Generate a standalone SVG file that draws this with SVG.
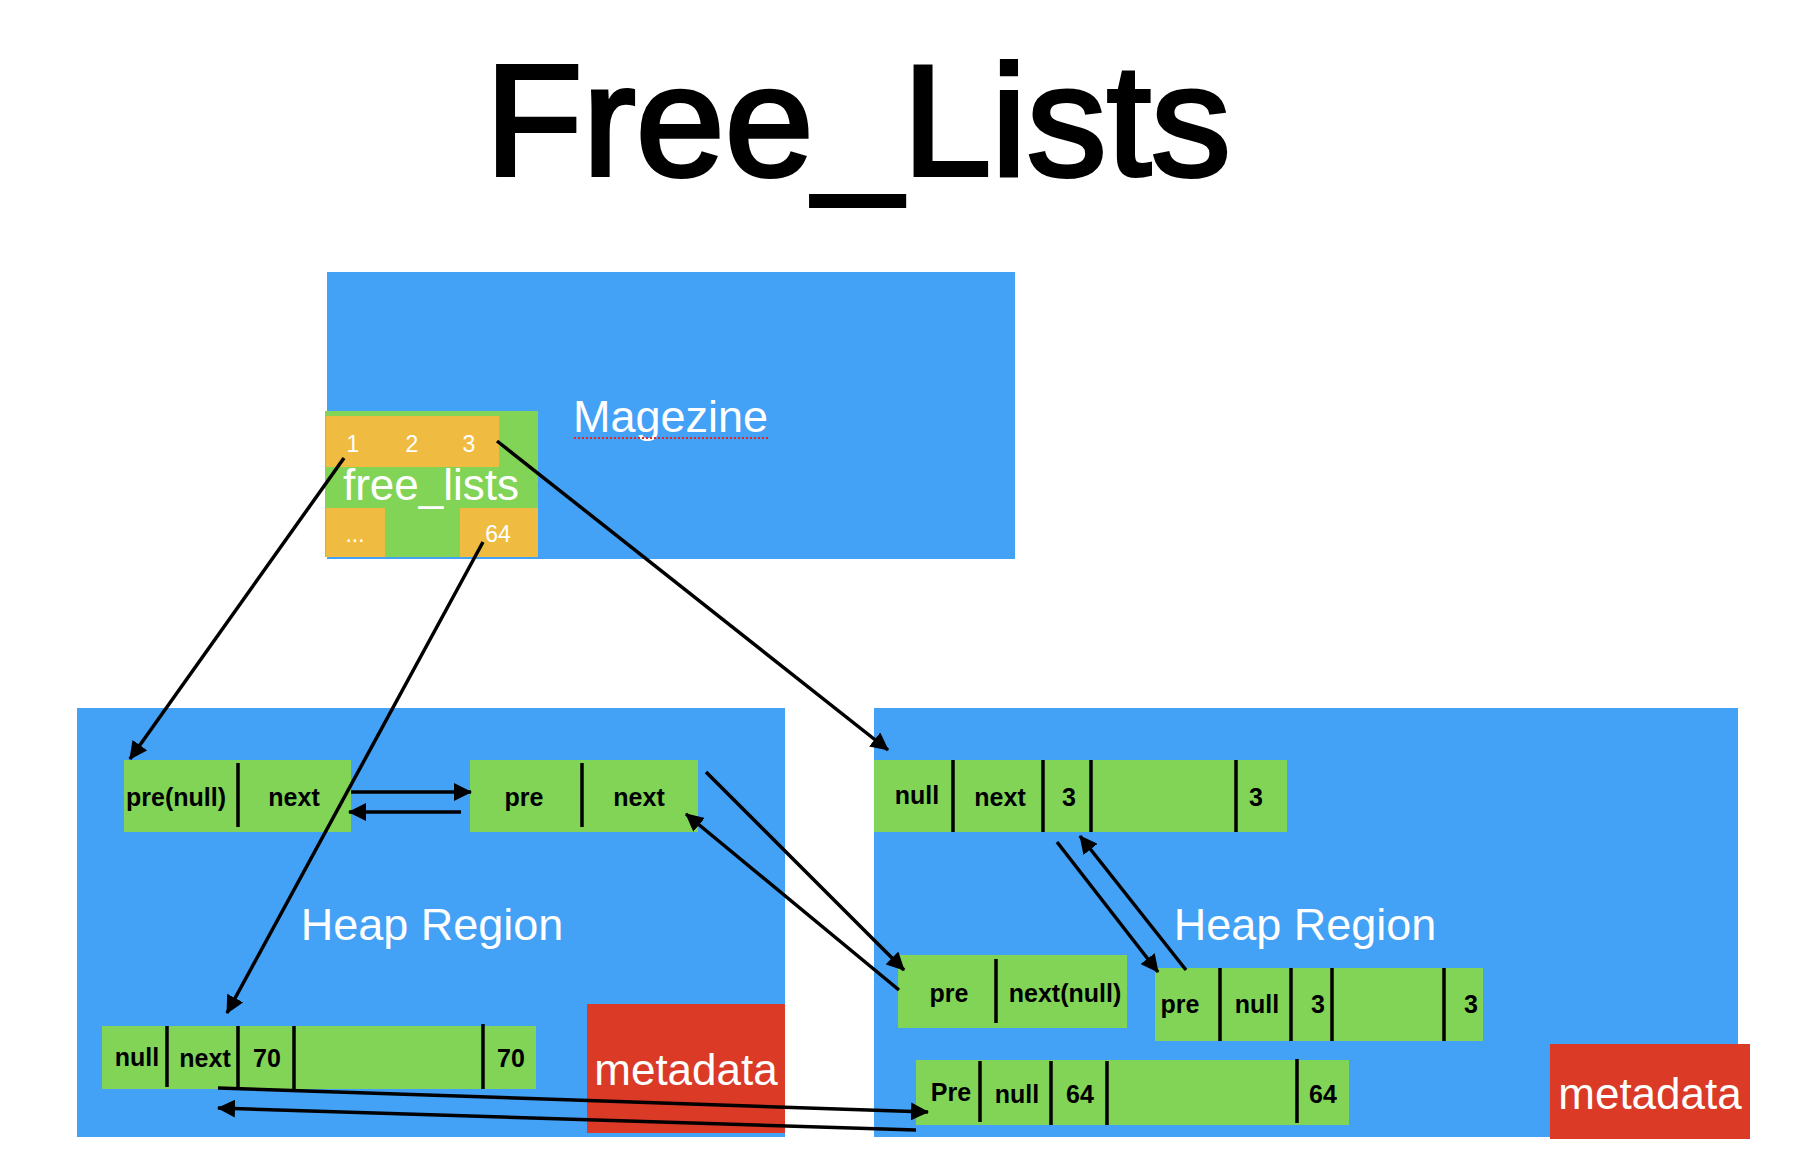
<svg xmlns="http://www.w3.org/2000/svg" width="1794" height="1162" viewBox="0 0 1794 1162">
<defs>
<style>
.blue{fill:#43a1f6}
.green{fill:#81d456}
.orange{fill:#f0bb41}
.red{fill:#da3a26}
.div{stroke:#000;stroke-width:3.5}
.lbl{font-family:"Liberation Sans",Arial,sans-serif;font-weight:bold;font-size:25px;fill:#000;text-anchor:middle}
.wt{font-family:"Liberation Sans",Arial,sans-serif;fill:#fff}
.conn{stroke:#000;stroke-width:3.5;fill:none;marker-end:url(#ah)}
</style>
<marker id="ah" viewBox="0 0 18 18" refX="17" refY="9" markerWidth="18" markerHeight="18" markerUnits="userSpaceOnUse" orient="auto">
<path d="M0,0 L18,9 L0,18 z" fill="#000"/>
</marker>
</defs>
<rect width="1794" height="1162" fill="#fff"/>
<text x="858" y="175" font-family="Liberation Sans,Arial,sans-serif" font-size="157" text-anchor="middle" fill="#000" stroke="#000" stroke-width="4" textLength="746" lengthAdjust="spacingAndGlyphs">Free_Lists</text>

<g id="magazine">
<rect class="blue" x="327" y="272" width="688" height="287"/>
<text class="wt" x="573" y="432" font-size="45">Magezine</text>
<line x1="574" y1="438" x2="769" y2="438" stroke="#e02a2a" stroke-width="2" stroke-dasharray="2,2"/>
</g>
<g id="free_lists">
<rect class="green" x="325" y="411" width="213" height="146"/>
<rect class="orange" x="326" y="416" width="173" height="51"/>
<rect class="orange" x="326" y="508" width="59" height="49"/>
<rect class="orange" x="460" y="508" width="78" height="49"/>
<text class="wt" x="353" y="452" font-size="23" text-anchor="middle">1</text>
<text class="wt" x="412" y="452" font-size="23" text-anchor="middle">2</text>
<text class="wt" x="469" y="452" font-size="23" text-anchor="middle">3</text>
<text class="wt" x="431" y="500" font-size="44" text-anchor="middle">free_lists</text>
<text class="wt" x="355" y="542" font-size="23" text-anchor="middle">...</text>
<text class="wt" x="498" y="542" font-size="23" text-anchor="middle">64</text>
</g>

<g id="heap_left">
<rect class="blue" x="77" y="708" width="708" height="429"/>
<text class="wt" x="432" y="940" font-size="45" text-anchor="middle">Heap Region</text>
</g>
<g id="meta_left">
<rect class="red" x="587" y="1004" width="198" height="129"/>
<text class="wt" x="686" y="1085" font-size="44" text-anchor="middle">metadata</text>
</g>
<g id="heap_right">
<rect class="blue" x="874" y="708" width="864" height="429"/>
<text class="wt" x="1305" y="940" font-size="45" text-anchor="middle">Heap Region</text>
</g>
<g id="meta_right">
<rect class="red" x="1550" y="1044" width="200" height="95"/>
<text class="wt" x="1650" y="1109" font-size="44" text-anchor="middle">metadata</text>
</g>

<g id="node_a">
<rect class="green" x="124" y="760" width="227" height="72"/>
<line class="div" x1="238" y1="763" x2="238" y2="827"/>
<text class="lbl" x="176" y="806">pre(null)</text>
<text class="lbl" x="294" y="806">next</text>
</g>
<g id="node_b">
<rect class="green" x="470" y="760" width="228" height="72"/>
<line class="div" x1="582" y1="763" x2="582" y2="827"/>
<text class="lbl" x="524" y="806">pre</text>
<text class="lbl" x="639" y="806">next</text>
</g>
<g id="node_c">
<rect class="green" x="102" y="1026" width="434" height="63"/>
<line class="div" x1="167" y1="1026" x2="167" y2="1087"/>
<line class="div" x1="238" y1="1026" x2="238" y2="1087"/>
<line class="div" x1="294" y1="1026" x2="294" y2="1089"/>
<line class="div" x1="483" y1="1024" x2="483" y2="1089"/>
<text class="lbl" x="137" y="1066">null</text>
<text class="lbl" x="205" y="1067">next</text>
<text class="lbl" x="267" y="1067">70</text>
<text class="lbl" x="511" y="1067">70</text>
</g>
<g id="node_d">
<rect class="green" x="874" y="760" width="413" height="72"/>
<line class="div" x1="953" y1="760" x2="953" y2="832"/>
<line class="div" x1="1043" y1="760" x2="1043" y2="832"/>
<line class="div" x1="1091" y1="760" x2="1091" y2="832"/>
<line class="div" x1="1236" y1="760" x2="1236" y2="832"/>
<text class="lbl" x="917" y="804">null</text>
<text class="lbl" x="1000" y="806">next</text>
<text class="lbl" x="1069" y="806">3</text>
<text class="lbl" x="1256" y="806">3</text>
</g>
<g id="node_e">
<rect class="green" x="898" y="955" width="229" height="73"/>
<line class="div" x1="996" y1="959" x2="996" y2="1023"/>
<text class="lbl" x="949" y="1002">pre</text>
<text class="lbl" x="1065" y="1002">next(null)</text>
</g>
<g id="node_f">
<rect class="green" x="1155" y="968" width="328" height="73"/>
<line class="div" x1="1220" y1="968" x2="1220" y2="1041"/>
<line class="div" x1="1291" y1="968" x2="1291" y2="1041"/>
<line class="div" x1="1332" y1="968" x2="1332" y2="1041"/>
<line class="div" x1="1444" y1="968" x2="1444" y2="1041"/>
<text class="lbl" x="1180" y="1013">pre</text>
<text class="lbl" x="1257" y="1013">null</text>
<text class="lbl" x="1318" y="1013">3</text>
<text class="lbl" x="1471" y="1013">3</text>
</g>
<g id="node_g">
<rect class="green" x="916" y="1060" width="433" height="65"/>
<line class="div" x1="980" y1="1061" x2="980" y2="1122"/>
<line class="div" x1="1051" y1="1061" x2="1051" y2="1125"/>
<line class="div" x1="1107" y1="1061" x2="1107" y2="1125"/>
<line class="div" x1="1297" y1="1059" x2="1297" y2="1123"/>
<text class="lbl" x="951" y="1101">Pre</text>
<text class="lbl" x="1017" y="1103">null</text>
<text class="lbl" x="1080" y="1103">64</text>
<text class="lbl" x="1323" y="1103">64</text>
</g>

<g id="connectors">
<line class="conn" x1="344" y1="458" x2="130" y2="759"/>
<line class="conn" x1="497" y1="441" x2="888" y2="750"/>
<line class="conn" x1="483" y1="542" x2="227" y2="1013"/>
<line class="conn" x1="351" y1="792" x2="471" y2="792"/>
<line class="conn" x1="461" y1="812" x2="349" y2="812"/>
<line class="conn" x1="706" y1="772" x2="904" y2="970"/>
<line class="conn" x1="899" y1="990" x2="686" y2="814"/>
<line class="conn" x1="1057" y1="842" x2="1158" y2="972"/>
<line class="conn" x1="1186" y1="970" x2="1080" y2="836"/>
<line class="conn" x1="218" y1="1088" x2="928" y2="1112"/>
<line class="conn" x1="916" y1="1130" x2="218" y2="1108"/>
</g>
</svg>
